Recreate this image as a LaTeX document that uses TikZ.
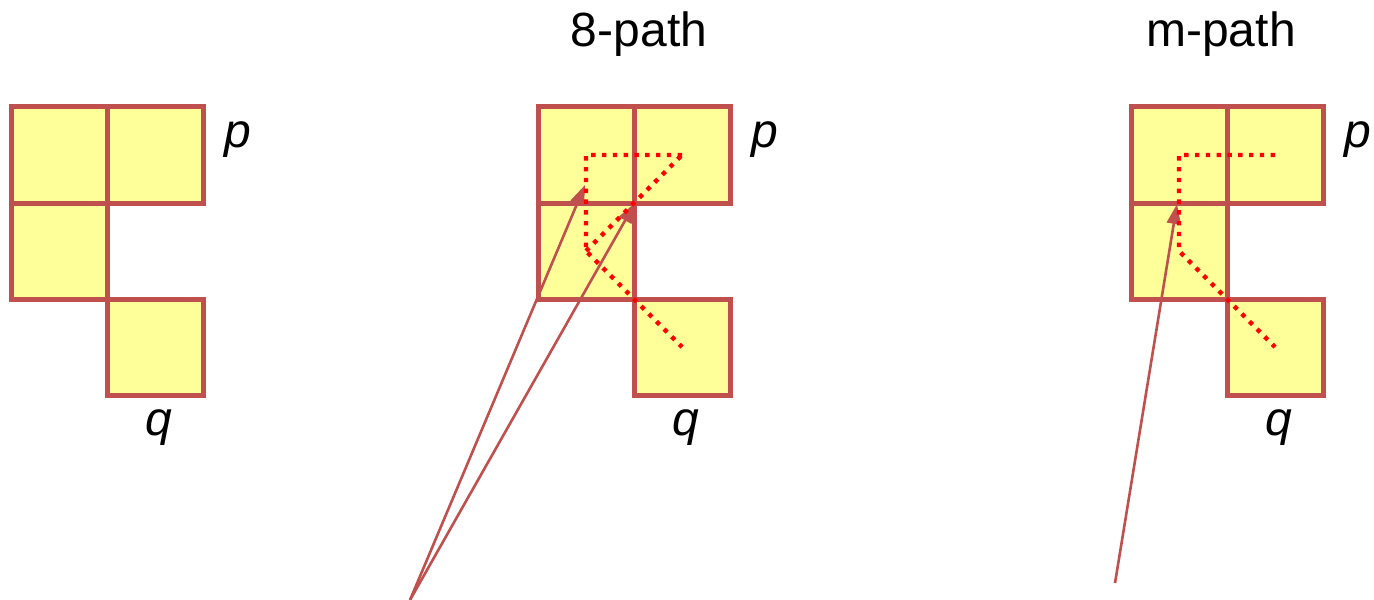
\documentclass[tikz,border=0pt]{standalone}
\usepackage{fontspec}
\setmainfont{Liberation Sans}
\usetikzlibrary{arrows.meta}
\definecolor{cellborder}{HTML}{C0504D}
\definecolor{cellfill}{HTML}{FFFF99}
\definecolor{pathred}{HTML}{FF0000}
\begin{document}
\begin{tikzpicture}[x=0.5pt,y=-0.5pt,
  cell/.style={draw=cellborder,fill=cellfill,line width=2.5pt,minimum size=48pt,inner sep=0pt,outer sep=0pt,shape=rectangle},
  lbl/.style={inner sep=0pt,anchor=base west,font=\fontsize{24}{28}\selectfont\itshape},
  ttl/.style={inner sep=0pt,anchor=base,font=\fontsize{24}{28}\selectfont},
  pathline/.style={draw=pathred,line width=2.2pt,dash pattern=on 2.2pt off 3.2pt},
  pointer/.style={draw=cellborder,line width=1.3pt,-{Triangle[length=10pt,width=7pt]}}]
\useasboundingbox (0,0) rectangle (1374,599);
\foreach \g/\ox in {l/11,m/538,r/1131}{
  \node[cell] (\g A) at (\ox+48,155) {};
  \node[cell] (\g B) at (\ox+144,155) {};
  \node[cell] (\g C) at (\ox+48,251) {};
  \node[cell] (\g D) at (\ox+144,347) {};
  \node[lbl] (\g p) at (\ox+213,148) {p};
  \node[lbl] (\g q) at (\ox+134,435) {q};
}
\node[ttl] (t8) at (639,47) {8-path};
\node[ttl] (tm) at (1221,47) {m-path};
% pointers
\coordinate (s1) at (410,600);
\coordinate (s2) at (1115,583);
\coordinate (h1) at (585,185);
\coordinate (h2) at (635,203);
\coordinate (h3) at (1177,204);
\draw[pointer] (s1) -- (h1);
\draw[pointer] (s1) -- (h2);
\draw[pointer] (s2) -- (h3);
% paths
\draw[pathline] (mB.center) -- (mA.center) -- (mC.center) -- (mD.center);
\draw[pathline] (mC.center) -- (mB.center);
\draw[pathline] (rB.center) -- (rA.center) -- (rC.center) -- (rD.center);
\end{tikzpicture}
\end{document}
